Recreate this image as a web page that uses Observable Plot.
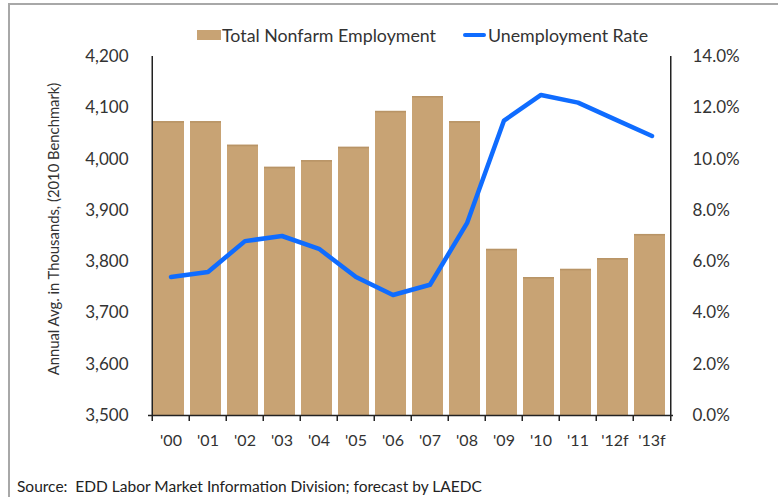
<!DOCTYPE html>
<html>
<head>
<meta charset="utf-8">
<script src="https://cdn.jsdelivr.net/npm/d3@7"></script>
<script src="https://cdn.jsdelivr.net/npm/@observablehq/plot@0.6"></script>
<style>
  html, body { margin: 0; padding: 0; background: #fff; }
  body { width: 778px; height: 497px; position: relative; overflow: hidden; font-family: Lato, "Open Sans", sans-serif; color: #333; }
  #frame { position: absolute; left: 8px; top: 3px; width: 780px; height: 500px; border-left: 2px solid #a8a8a8; border-top: 2px solid #a8a8a8; }
  #legend { position: absolute; left: 197px; top: 22px; height: 26px; display: flex; align-items: center; font-size: 17.8px; color: #333; white-space: nowrap; }
  #legend .sw { display: inline-block; width: 24px; height: 10px; background: #C8A374; margin-right: 1px; }
  #legend .ln { display: inline-block; width: 23px; height: 4px; background: #0F6CFF; border-radius: 2px; margin-left: 27px; margin-right: 2px; }
  #chart { position: absolute; left: 0; top: 46px; }
  #chart svg { overflow: visible; }
  #source { position: absolute; left: 17px; top: 477px; font-size: 15.5px; color: #222; white-space: pre; }
</style>
</head>
<body>
<div id="frame"></div>
<div id="legend"><span class="sw"></span><span>Total Nonfarm Employment</span><span class="ln"></span><span>Unemployment Rate</span></div>
<div id="chart"></div>
<div id="source">Source:  EDD Labor Market Information Division; forecast by LAEDC</div>
<script>
const years = ["'00","'01","'02","'03","'04","'05","'06","'07","'08","'09","'10","'11","'12f","'13f"];
const employment = [4073, 4073, 4027, 3984, 3997, 4023, 4093, 4122, 4073, 3824, 3769, 3785, 3806, 3853];
const unemploymentRate = [5.4, 5.6, 6.8, 7.0, 6.5, 5.4, 4.7, 5.1, 7.5, 11.5, 12.5, 12.2, 11.55, 10.9];
const leftTicks = [3500, 3600, 3700, 3800, 3900, 4000, 4100, 4200];
const rightTicks = [0, 2, 4, 6, 8, 10, 12, 14];
const yTitle = "Annual Avg. in Thousands, (2010 Benchmark)";

const yMin = 3500, yMax = 4200, rMax = 14;
const toLeft = r => yMin + r / rMax * (yMax - yMin);

const rows = years.map((y, i) => ({year: y, emp: employment[i], rate: unemploymentRate[i]}));
const half = 525 / 14 / 2;

const chart = Plot.plot({
  width: 778,
  height: 409,
  marginLeft: 148,
  marginRight: 105,
  marginTop: 10,
  marginBottom: 40,
  style: {fontFamily: "Lato, 'Open Sans', sans-serif", color: "#333", background: "transparent", overflow: "visible"},
  x: {domain: years, paddingInner: 0.17, paddingOuter: 0.085, label: null},
  y: {domain: [yMin, yMax], label: null},
  marks: [
    Plot.barY(rows, {x: "year", y1: yMin, y2: "emp", fill: "#C8A374", dx: -2}),
    Plot.barY(rows, {x: "year", y1: d => d.emp - 3, y2: "emp", fill: "#B89466", dx: -2}),
    Plot.line(rows, {x: "year", y: d => toLeft(d.rate), stroke: "#0F6CFF", strokeWidth: 4.5, strokeLinejoin: "round", strokeLinecap: "round"}),
    Plot.ruleY([yMin], {stroke: "#222", strokeWidth: 1.5}),
    Plot.ruleX([years[0]], {dx: -half, stroke: "#222", strokeWidth: 1.5}),
    Plot.ruleX([years[years.length - 1]], {dx: half, stroke: "#222", strokeWidth: 1.5}),
    Plot.axisX({tickSize: 0, tickPadding: 19, fontSize: 16, label: null}),
    Plot.axisX({tickSize: 6, tickFormat: () => "", dx: -half, stroke: "#222", strokeWidth: 1.5, label: null}),
    Plot.axisX([years[years.length - 1]], {tickSize: 6, tickFormat: () => "", dx: half, stroke: "#222", strokeWidth: 1.5, label: null}),
    Plot.axisY({ticks: leftTicks, tickFormat: d3.format(","), tickSize: 0, tickPadding: 20, fontSize: 17, label: null}),
    Plot.axisY({anchor: "right", ticks: rightTicks.map(toLeft), tickFormat: d => ((d - yMin) / (yMax - yMin) * rMax).toFixed(1) + "%", tickSize: 0, tickPadding: 19, fontSize: 17, label: null}),
    Plot.text([yTitle], {frameAnchor: "left", textAnchor: "middle", rotate: -90, dx: -94, dy: -7, text: d => d, fontSize: 14.8, fill: "#333"})
  ]
});
document.getElementById("chart").appendChild(chart);
</script>
</body>
</html>
